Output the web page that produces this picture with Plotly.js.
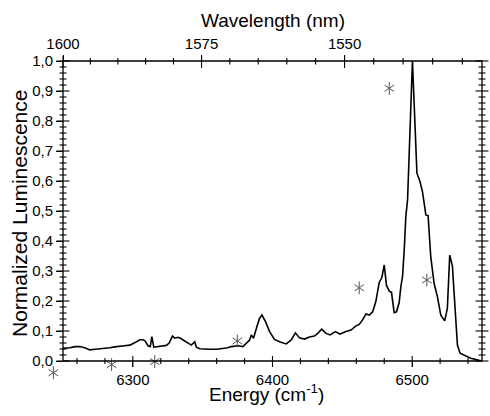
<!DOCTYPE html>
<html>
<head>
<meta charset="utf-8">
<script src="https://cdn.plot.ly/plotly-3.0.1.min.js"></script>
<style>html,body{margin:0;padding:0;background:#fff;}#chart{width:490px;height:416px;}</style>
</head>
<body>
<div id="chart"></div>
<script>
// Energy (cm^-1) and normalized luminescence
const energy = [6250, 6251.4, 6255, 6258.6, 6262, 6266, 6269.3, 6273, 6276.4, 6280, 6283.6, 6287, 6290.7, 6294, 6297.9, 6300.5, 6302.6, 6305, 6307, 6308.6, 6311, 6312.5, 6313.6, 6315, 6319.3, 6324, 6326, 6328.4, 6330, 6332.4, 6334, 6337, 6340, 6341.9, 6344.3, 6345.5, 6347.9, 6352, 6355, 6360, 6364.5, 6368, 6370.5, 6373, 6375.2, 6378.8, 6381.2, 6383.6, 6384.8, 6386.4, 6388.8, 6390.7, 6392.4, 6395, 6397.9, 6401.4, 6405, 6407, 6409.8, 6413.4, 6416.4, 6419.3, 6422.9, 6426.4, 6430, 6432.4, 6435.2, 6438.3, 6441.2, 6445, 6448.3, 6452.6, 6456.2, 6459.8, 6462.1, 6464.5, 6466.9, 6469.3, 6471.7, 6474, 6476.4, 6478.3, 6480, 6481.6, 6483.6, 6485.2, 6487.1, 6488.8, 6490.7, 6491.9, 6493.1, 6494.3, 6495.5, 6496.7, 6497.9, 6500.2, 6503.4, 6505.5, 6507.4, 6508.6, 6509.8, 6511.4, 6513.3, 6515.7, 6518.1, 6520.5, 6523.3, 6525.2, 6526.9, 6528.8, 6530.7, 6532.4, 6534.3, 6537.1, 6541.9, 6547.9, 6550];
const luminescence = [0.042, 0.042, 0.044, 0.048, 0.048, 0.043, 0.037, 0.039, 0.040, 0.042, 0.044, 0.047, 0.050, 0.051, 0.053, 0.058, 0.064, 0.071, 0.071, 0.068, 0.050, 0.048, 0.081, 0.046, 0.050, 0.052, 0.060, 0.083, 0.076, 0.079, 0.076, 0.068, 0.060, 0.053, 0.064, 0.046, 0.041, 0.039, 0.039, 0.039, 0.041, 0.044, 0.048, 0.050, 0.051, 0.048, 0.059, 0.070, 0.087, 0.076, 0.114, 0.142, 0.153, 0.131, 0.098, 0.072, 0.064, 0.062, 0.057, 0.070, 0.094, 0.077, 0.073, 0.080, 0.083, 0.092, 0.106, 0.092, 0.087, 0.098, 0.090, 0.098, 0.103, 0.117, 0.122, 0.137, 0.157, 0.153, 0.164, 0.198, 0.262, 0.278, 0.320, 0.252, 0.233, 0.229, 0.161, 0.164, 0.195, 0.248, 0.281, 0.370, 0.484, 0.537, 0.710, 1.000, 0.626, 0.600, 0.564, 0.530, 0.487, 0.485, 0.348, 0.259, 0.214, 0.153, 0.134, 0.175, 0.353, 0.317, 0.170, 0.053, 0.026, 0.020, 0.009, 0.002, 0.000];

// asterisk markers (energy, luminescence)
const starX = [6243.1, 6284.8, 6315.7, 6374.8, 6462.1, 6510.5, 6483.6];
const starY = [-0.039, -0.012, -0.002, 0.067, 0.244, 0.270, 0.909];

// energy axis ticks (cm^-1)
const energyMajor = [6300, 6400, 6500];
const energyMinor = [6260, 6280, 6320, 6340, 6360, 6380, 6420, 6440, 6460, 6480, 6520, 6540];
// wavelength axis ticks (nm)
const nmMajor = [1600, 1575, 1550];
const nmMinor = [1595, 1590, 1585, 1580, 1570, 1565, 1560, 1555, 1545, 1540, 1535, 1530];
// luminescence axis ticks
const lumMajor = [0, 0.1, 0.2, 0.3, 0.4, 0.5, 0.6, 0.7, 0.8, 0.9, 1.0];
const lumMinor = [0.02, 0.04, 0.06, 0.08, 0.12, 0.14, 0.16, 0.18, 0.22, 0.24, 0.26, 0.28,
  0.32, 0.34, 0.36, 0.38, 0.42, 0.44, 0.46, 0.48, 0.52, 0.54, 0.56, 0.58, 0.62, 0.64, 0.66, 0.68,
  0.72, 0.74, 0.76, 0.78, 0.82, 0.84, 0.86, 0.88, 0.92, 0.94, 0.96, 0.98];

const toCm = nm => 1e7 / nm;
const wlMajorVals = nmMajor.map(toCm);
const wlMinorVals = nmMinor.map(toCm);

const FONT = 'Liberation Sans, Arial, sans-serif';
const W = 490, H = 416;
const PL = 63, PR = 482, PT = 61, PB = 361;   // plot frame in pixels
const XR = [6250, 6550];
const YR = [0, 1];
const XD = [PL / W, PR / W];
const YD = [(H - PB) / H, (H - PT) / H];
const xs = (PR - PL) / (XR[1] - XR[0]);   // px per cm^-1
const ys = (PB - PT) / (YR[1] - YR[0]);   // px per unit
// full-canvas helper axes with the same scale (for marks lying on/outside the frame)
const XRfull = [XR[0] - PL / xs, XR[1] + (W - PR) / xs];
const YRfull = [YR[0] - (H - PB) / ys, YR[1] + PT / ys];

const C = '#000';
const LINE_K = 1.4; // plotly line-ns / line-ew symbol length = 1.4 * size

// tick marks drawn as line-shaped markers (which render reliably here)
function xTickTrace(vals, yBase, up, down) {
  const yc = yBase + (up - down) / 2 / ys;
  return {x: vals, y: vals.map(() => yc), xaxis: 'x9', yaxis: 'y9', type: 'scatter', mode: 'markers',
    marker: {symbol: 'line-ns-open', size: (up + down) / LINE_K, color: C, line: {color: C, width: 1.1}},
    hoverinfo: 'skip', showlegend: false};
}
function yTickTrace(vals, xBase, left, right) {
  const xc = xBase + (right - left) / 2 / xs;
  return {x: vals.map(() => xc), y: vals, xaxis: 'x9', yaxis: 'y9', type: 'scatter', mode: 'markers',
    marker: {symbol: 'line-ew-open', size: (left + right) / LINE_K, color: C, line: {color: C, width: 1.1}},
    hoverinfo: 'skip', showlegend: false};
}

const traces = [
  {x: energy, y: luminescence, type: 'scatter', mode: 'lines',
   line: {color: C, width: 1.6}, hoverinfo: 'skip', showlegend: false},
  xTickTrace(energyMajor, YR[0], 5, 6),
  xTickTrace(energyMinor, YR[0], 3, 3),
  xTickTrace(wlMajorVals, YR[1], 5, 7),
  xTickTrace(wlMinorVals, YR[1], 3, 3.5),
  yTickTrace(lumMajor, XR[0], 6.5, 6.5),
  yTickTrace(lumMinor, XR[0], 3.5, 3.5),
  yTickTrace(lumMajor, XR[1], 6.5, 6.5),
  yTickTrace(lumMinor, XR[1], 3.5, 3.5),
  {x: starX, y: starY, xaxis: 'x9', yaxis: 'y9', type: 'scatter', mode: 'markers',
   marker: {symbol: 'y-up-open', size: 8, color: '#555', line: {color: '#555', width: 1}},
   showlegend: false, hoverinfo: 'skip'},
  {x: starX, y: starY, xaxis: 'x9', yaxis: 'y9', type: 'scatter', mode: 'markers',
   marker: {symbol: 'y-down-open', size: 8, color: '#555', line: {color: '#555', width: 1}},
   showlegend: false, hoverinfo: 'skip'},
  {x: [], y: [], xaxis: 'x2', yaxis: 'y', showlegend: false}
];

const tickFont = {family: FONT, size: 15, color: C};
const base = {showgrid: false, zeroline: false, tickcolor: C, automargin: false, fixedrange: true};

const layout = {
  width: W, height: H,
  margin: {l: 0, r: 0, t: 0, b: 0, pad: 0},
  paper_bgcolor: '#fff', plot_bgcolor: 'rgba(0,0,0,0)',
  separators: ',.',
  showlegend: false,
  font: {family: FONT, color: C},
  xaxis: Object.assign({}, base, {
    range: XR, domain: XD, anchor: 'y', side: 'bottom',
    tickmode: 'array', tickvals: energyMajor, tickformat: 'd',
    ticks: 'outside', ticklen: 5, tickwidth: 1,
    showline: false, tickfont: tickFont
  }),
  xaxis2: Object.assign({}, base, {
    range: XR, domain: XD, overlaying: 'x', anchor: 'y', side: 'top',
    tickmode: 'array', tickvals: wlMajorVals, ticktext: nmMajor.map(String),
    ticks: 'outside', ticklen: 5, tickwidth: 1, showline: false, tickfont: tickFont
  }),
  yaxis: Object.assign({}, base, {
    range: YR, domain: YD, anchor: 'x', side: 'left',
    tickmode: 'array', tickvals: lumMajor, tickformat: '.1f',
    ticks: 'outside', ticklen: 6, tickwidth: 1,
    showline: false, tickfont: tickFont
  }),
  xaxis9: {range: XRfull, domain: [0, 1], anchor: 'y9', visible: false, fixedrange: true},
  yaxis9: {range: YRfull, domain: [0, 1], anchor: 'x9', visible: false, fixedrange: true},
  shapes: [
    {type: 'rect', xref: 'paper', yref: 'paper', x0: XD[0], x1: XD[1], y0: YD[0], y1: YD[1],
     line: {color: C, width: 1.3}, fillcolor: 'rgba(0,0,0,0)', layer: 'above'}
  ],
  annotations: [
    {text: 'Wavelength (nm)', xref: 'paper', yref: 'paper', x: (XD[0] + XD[1]) / 2, y: (H - 33) / H,
     xanchor: 'center', yanchor: 'bottom', showarrow: false,
     font: {family: FONT, size: 19, color: C}},
    {text: 'Energy (cm<sup>-1</sup>)', xref: 'paper', yref: 'paper', x: 266.5 / W, y: (H - 407) / H,
     xanchor: 'center', yanchor: 'bottom', showarrow: false,
     font: {family: FONT, size: 19, color: C}},
    {text: 'Normalized Luminescence', xref: 'paper', yref: 'paper', x: 20 / W, y: (H - 214) / H,
     xanchor: 'center', yanchor: 'middle', textangle: -90, showarrow: false,
     font: {family: FONT, size: 21, color: C}}
  ]
};

Plotly.newPlot('chart', traces, layout, {displayModeBar: false, staticPlot: true});
</script>
</body>
</html>
